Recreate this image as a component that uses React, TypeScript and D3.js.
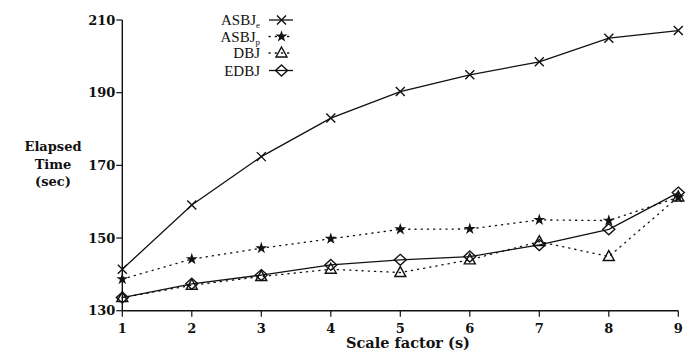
import React from "react";
import * as d3 from "d3";

const scaleFactors = [1, 2, 3, 4, 5, 6, 7, 8, 9];
const asbjE = [141.4, 159.1, 172.4, 183, 190.3, 194.9, 198.5, 205, 207.1];
const asbjP = [138.7, 144.2, 147.2, 149.8, 152.4, 152.5, 155, 154.8, 161.2];
const dbj = [133.6, 137, 139.4, 141.4, 140.5, 144, 149, 144.9, 161.3];
const edbj = [133.6, 137.4, 139.8, 142.6, 144, 144.9, 148.1, 152.4, 162.5];
const yTicks = [130, 150, 170, 190, 210];
const xTicks = [1, 2, 3, 4, 5, 6, 7, 8, 9];

const W = 690;
const H = 351;
const FONT = '"Liberation Serif", serif';
const BOLD_FONT = '"DejaVu Serif", serif';

type Marker = "x" | "star" | "tri" | "dia";

function markerPath(m: Marker): string {
  if (m === "x") {
    const r = 4.5;
    return `M${-r},${-r}L${r},${r}M${-r},${r}L${r},${-r}`;
  }
  if (m === "star") {
    return d3.symbol(d3.symbolStar, 45)() as string;
  }
  if (m === "tri") {
    return "M0,-6L5.5,4L-5.5,4Z";
  }
  return "M0,-5.5L6,0L0,5.5L-6,0Z";
}

function MarkerShape({ m, x, y }: { m: Marker; x: number; y: number }) {
  const d = markerPath(m);
  if (m === "star") {
    return <path d={d} transform={`translate(${x},${y})`} fill="#111" stroke="none" />;
  }
  return (
    <path d={d} transform={`translate(${x},${y})`} fill="none" stroke="#111" strokeWidth={1.4} />
  );
}

export default function App() {
  const x = d3.scaleLinear().domain([1, 9]).range([122.3, 678.3]);
  const y = d3.scaleLinear().domain([130, 210]).range([310.7, 20]);

  const series: { name: string; sub?: string; vals: number[]; m: Marker; dash?: string }[] = [
    { name: "ASBJ", sub: "e", vals: asbjE, m: "x" },
    { name: "ASBJ", sub: "p", vals: asbjP, m: "star", dash: "1.2,5" },
    { name: "DBJ", vals: dbj, m: "tri", dash: "1.2,5" },
    { name: "EDBJ", vals: edbj, m: "dia" },
  ];

  const line = d3
    .line<number>()
    .x((_, i) => x(scaleFactors[i]))
    .y((v) => y(v));

  const legendY = [20, 36.5, 53, 70.5];
  const boldStyle = { fontFamily: BOLD_FONT };

  return (
    <svg
      width={W}
      height={H}
      style={{ position: "absolute", left: 0, top: 0, background: "white", fontFamily: FONT }}
    >
      <rect x={0} y={0} width={W} height={H} fill="white" />
      <line x1={x(1)} x2={x(1)} y1={y(210)} y2={y(130)} stroke="#111" strokeWidth={1.4} />
      <line x1={x(1)} x2={x(9)} y1={y(130)} y2={y(130)} stroke="#111" strokeWidth={1.4} />
      {yTicks.map((t) => (
        <g key={"y" + t}>
          <line x1={x(1) - 6} x2={x(1)} y1={y(t)} y2={y(t)} stroke="#111" strokeWidth={1.2} />
          <text
            x={x(1) - 7}
            y={y(t)}
            dy="0.36em"
            textAnchor="end"
            fontSize={13}
            fontWeight="bold"
            fill="#111"
            style={boldStyle}
          >
            {t}
          </text>
        </g>
      ))}
      {xTicks.map((t) => (
        <g key={"x" + t}>
          <line x1={x(t)} x2={x(t)} y1={y(130)} y2={y(130) + 6} stroke="#111" strokeWidth={1.2} />
          <text
            x={x(t)}
            y={332.5}
            textAnchor="middle"
            fontSize={13}
            fontWeight="bold"
            fill="#111"
            style={boldStyle}
          >
            {t}
          </text>
        </g>
      ))}
      <text x={408} y={348} textAnchor="middle" fontSize={14.5} fontWeight="bold" fill="#111" style={boldStyle}>
        Scale factor (s)
      </text>
      <text textAnchor="middle" fontSize={13} fontWeight="bold" fill="#111" style={boldStyle}>
        <tspan x={53} y={151}>Elapsed</tspan>
        <tspan x={53} y={169}>Time</tspan>
        <tspan x={53} y={186}>(sec)</tspan>
      </text>

      {series.map((s, si) => (
        <path
          key={"s" + si}
          d={line(s.vals) as string}
          fill="none"
          stroke="#111"
          strokeWidth={1.3}
          strokeDasharray={s.dash}
          strokeLinecap={s.dash ? "round" : "butt"}
        />
      ))}
      {series.map((s, si) => (
        <g key={"m" + si}>
          {s.vals.map((v, i) => (
            <MarkerShape key={i} m={s.m} x={x(scaleFactors[i])} y={y(v)} />
          ))}
        </g>
      ))}

      {series.map((s, si) => (
        <g key={"l" + si}>
          <text
            x={260}
            y={legendY[si]}
            dy="0.35em"
            textAnchor="end"
            fontSize={15}
            fill="#111"
            style={{ fontFamily: FONT }}
          >
            {s.name}
            {s.sub ? (
              <tspan fontSize={9} dy="3">
                {s.sub}
              </tspan>
            ) : null}
          </text>
          <line
            x1={269}
            x2={293}
            y1={legendY[si]}
            y2={legendY[si]}
            stroke="#111"
            strokeWidth={1.3}
            strokeDasharray={s.dash}
            strokeLinecap={s.dash ? "round" : "butt"}
          />
          <MarkerShape m={s.m} x={281.5} y={legendY[si]} />
        </g>
      ))}
    </svg>
  );
}
